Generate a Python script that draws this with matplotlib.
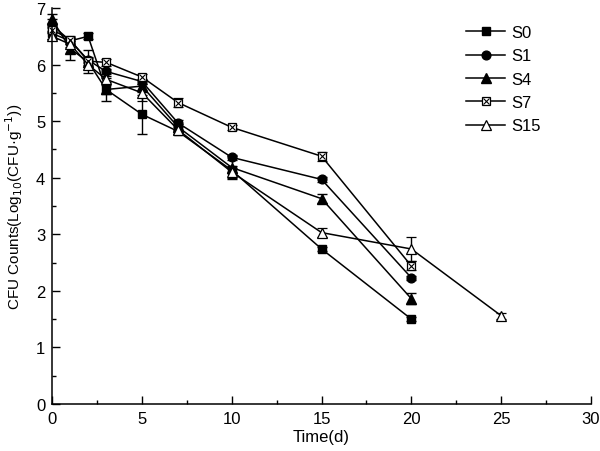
import numpy as np
import matplotlib
matplotlib.use('Agg')
import matplotlib.pyplot as plt
from matplotlib.ticker import MultipleLocator
from matplotlib.container import ErrorbarContainer

plt.rcParams['font.family'] = ['Liberation Sans', 'DejaVu Sans']

# ── data
days = [0, 1, 2, 3, 5, 7, 10, 15, 20]
days_s15 = [0, 1, 2, 3, 5, 7, 10, 15, 20, 25]

s0 = [6.55, 6.42, 6.50, 5.56, 5.12, 4.82, 4.13, 2.74, 1.50]
s0_err = [0.10, 0.05, 0.05, 0.08, 0.35, 0.05, 0.05, 0.04, 0.03]
s1 = [6.70, 6.42, 6.08, 5.88, 5.70, 4.97, 4.36, 3.97, 2.23]
s1_err = [0.10, 0.05, 0.05, 0.05, 0.05, 0.05, 0.04, 0.04, 0.04]
s4 = [6.80, 6.28, 6.05, 5.56, 5.62, 4.90, 4.18, 3.63, 1.86]
s4_err = [0.10, 0.20, 0.20, 0.20, 0.10, 0.05, 0.20, 0.08, 0.10]
s7 = [6.62, 6.44, 6.06, 6.04, 5.78, 5.33, 4.89, 4.38, 2.44]
s7_err = [0.05, 0.06, 0.06, 0.06, 0.06, 0.08, 0.05, 0.08, 0.08]
s15 = [6.50, 6.36, 6.00, 5.74, 5.50, 4.85, 4.10, 3.03, 2.74, 1.56]
s15_err = [0.05, 0.05, 0.05, 0.05, 0.15, 0.05, 0.10, 0.08, 0.22, 0.05]

fig = plt.figure(figsize=(6.0, 4.52), dpi=100)
ax = fig.add_axes([0.087, 0.104, 0.898, 0.876])

ms = 6.3
kw = dict(color='black', lw=1.1, capsize=3.5, elinewidth=1.0, capthick=1.0, clip_on=False)

ax.errorbar(days, s0, yerr=s0_err, marker='s', ms=ms, mfc='black', mec='black', label='S0', **kw)
ax.errorbar(days, s1, yerr=s1_err, marker='o', ms=ms, mfc='black', mec='black', label='S1', **kw)
ax.errorbar(days, s4, yerr=s4_err, marker='^', ms=ms + 0.5, mfc='black', mec='black', label='S4', **kw)
ax.errorbar(days, s7, yerr=s7_err, marker='s', ms=ms, mfc='white', mec='black', mew=0.9, label='_s7', **kw)
ax.plot(days, s7, ls='none', marker='x', ms=ms - 1.8, mec='black', mew=0.8, clip_on=False, zorder=5)
ax.errorbar(days_s15, s15, yerr=s15_err, marker='^', ms=ms + 1, mfc='white', mec='black', mew=0.9, label='S15', **kw)

# legend handles (S7 crossed square)
h_s7a, = ax.plot([], [], color='black', lw=1.1, marker='s', ms=ms, mfc='white', mec='black', mew=0.9)
h_s7b, = ax.plot([], [], ls='none', marker='x', ms=ms - 1.8, mec='black', mew=0.8)
handles, labels = ax.get_legend_handles_labels()
handles = [h.lines[0] if isinstance(h, ErrorbarContainer) else h for h in handles]
handles.insert(3, (h_s7a, h_s7b))
labels.insert(3, 'S7')
ax.legend(handles, labels, loc='upper right', bbox_to_anchor=(0.935, 0.995), frameon=False,
          fontsize=12, handlelength=2.3, labelspacing=0.5, handletextpad=0.4)

ax.set_xlim(0, 30)
ax.set_ylim(0, 7)
ax.xaxis.set_major_locator(MultipleLocator(5))
ax.xaxis.set_minor_locator(MultipleLocator(2.5))
ax.yaxis.set_major_locator(MultipleLocator(1))
ax.yaxis.set_minor_locator(MultipleLocator(0.5))
ax.tick_params(which='both', direction='in', labelsize=12, width=1.0)
ax.tick_params(which='major', length=6, pad=5)
ax.tick_params(which='minor', length=3)
ax.spines['top'].set_visible(False)
ax.spines['right'].set_visible(False)
ax.spines['left'].set_linewidth(1.1)
ax.spines['bottom'].set_linewidth(1.1)

ax.set_xlabel('Time(d)', fontsize=12, labelpad=2)
ax.set_ylabel('CFU Counts(Log$_{10}$(CFU·g$^{-1}$))', fontsize=11, labelpad=8)

plt.savefig('out.png', dpi=100)
